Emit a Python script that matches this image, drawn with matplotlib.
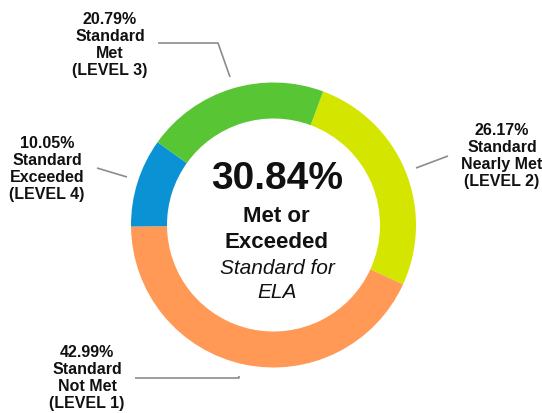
import matplotlib
matplotlib.use("Agg")
import matplotlib.pyplot as plt

plt.rcParams['font.family'] = ['Liberation Sans', 'DejaVu Sans']

# dados (ordem no sentido horario a partir do topo)
niveis = ['LEVEL 2', 'LEVEL 1', 'LEVEL 4', 'LEVEL 3']
nomes = ['Standard\nNearly Met', 'Standard\nNot Met', 'Standard\nExceeded', 'Standard\nMet']
valores = [26.17, 42.99, 10.05, 20.79]
cores = ['#d4e600', '#ff9955', '#0b92d5', '#58c534']

W, H = 542, 413
fig = plt.figure(figsize=(W / 100, H / 100), dpi=100)
ax = fig.add_axes([0, 0, 1, 1])

def py(y):
    # converte y em pixels (de cima) para coordenadas do eixo
    return H - y

cx, cy, r = 273.5, py(225), 142.5
ax.pie(valores, colors=cores, startangle=69.6, counterclock=False,
       center=(cx, cy), radius=r, wedgeprops=dict(width=36, linewidth=0),
       frame=True)
ax.set_xlim(0, W)
ax.set_ylim(0, H)
ax.set_aspect('equal')
ax.axis('off')

# rotulos e linhas guia
rotulos = {
    'LEVEL 2': ((502, 156), [(416, 168), (448, 156)]),
    'LEVEL 1': ((87, 378), [(135, 378), (239, 378), (239, 376)]),
    'LEVEL 4': ((47, 169), [(97, 168), (127, 177)]),
    'LEVEL 3': ((110, 45), [(158, 43), (218, 43), (230, 77)]),
}
for nivel, nome, v in zip(niveis, nomes, valores):
    (tx, ty), linha = rotulos[nivel]
    ax.text(tx, py(ty), f"{v:.2f}%\n{nome}\n({nivel})", ha='center', va='center',
            fontsize=11.5, fontweight='bold', linespacing=1.15, color='#111111')
    ax.plot([p[0] for p in linha], [py(p[1]) for p in linha],
            color='#8c8c8c', lw=1.2, solid_capstyle='butt')

total = valores[2] + valores[3]
ax.text(277, py(179), f"{total:.2f}%", ha='center', va='center',
        fontsize=28, fontweight='bold', color='#111111')
ax.text(276, py(216), "Met or", ha='center', va='center',
        fontsize=16, fontweight='bold', color='#111111')
ax.text(276, py(242), "Exceeded", ha='center', va='center',
        fontsize=16, fontweight='bold', color='#111111')
ax.text(277, py(268), "Standard for", ha='center', va='center',
        fontsize=15, style='italic', color='#111111')
ax.text(277, py(292), "ELA", ha='center', va='center',
        fontsize=15, style='italic', color='#111111')

fig.savefig('out.png', dpi=100)
